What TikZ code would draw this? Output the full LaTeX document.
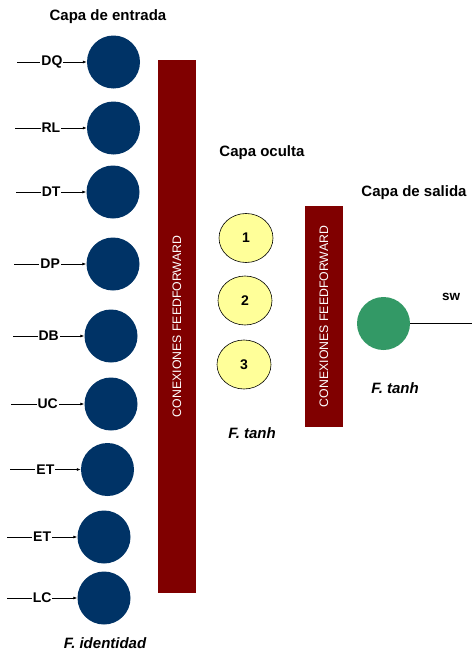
\documentclass[tikz,border=0pt]{standalone}
\usepackage{fontspec}
\setmainfont{Liberation Sans}
\usetikzlibrary{shapes.geometric,arrows.meta}
\definecolor{inblue}{HTML}{003366}
\definecolor{barred}{HTML}{800000}
\definecolor{hidyel}{HTML}{FFFF99}
\definecolor{outgreen}{HTML}{339966}
\begin{document}
\begin{tikzpicture}[x=1pt,y=-1pt,
  innode/.style={circle,fill=inblue,minimum size=53pt,inner sep=0pt},
  hidnode/.style={ellipse,draw=black,line width=0.6pt,fill=hidyel,minimum width=54pt,minimum height=49pt,inner sep=0pt,font=\fontsize{14}{16}\selectfont\bfseries},
  outnode/.style={circle,fill=outgreen,minimum size=53pt,inner sep=0pt},
  bar/.style={rectangle,fill=barred,text=white,rotate=90,inner sep=0pt,font=\fontsize{12.3}{14}\selectfont},
  title/.style={font=\fontsize{15}{18}\selectfont\bfseries},
  ftitle/.style={font=\fontsize{15}{18}\selectfont\bfseries\itshape},
  lab/.style={fill=white,inner xsep=1pt,inner ysep=1pt,font=\fontsize{14}{16}\selectfont\bfseries},
  inarrow/.style={line width=0.7pt,-{Latex[length=4pt,width=3pt]}}
]
\useasboundingbox (0,0) rectangle (472,653);

% titles
\node[title] (t1) at (108,17) {Capa de entrada};
\node[title] (t2) at (262,153) {Capa oculta};
\node[title] (t3) at (414,193) {Capa de salida};
\node[ftitle] (f1) at (105,643) {F. identidad};
\node[ftitle] (f2) at (252,433) {F. tanh};
\node[ftitle] (f3) at (395,388) {F. tanh};

% input nodes
\node[innode] (i1) at (113.5,62) {};
\node[innode] (i2) at (113.5,128) {};
\node[innode] (i3) at (113,192) {};
\node[innode] (i4) at (113,264) {};
\node[innode] (i5) at (111,336) {};
\node[innode] (i6) at (111,404) {};
\node[innode] (i7) at (107.5,469.5) {};
\node[innode] (i8) at (104,537) {};
\node[innode] (i9) at (104,598) {};

% input starts
\coordinate (s1) at (17,62);
\coordinate (s2) at (15,128);
\coordinate (s3) at (16,192);
\coordinate (s4) at (14,264);
\coordinate (s5) at (13,336);
\coordinate (s6) at (11,404);
\coordinate (s7) at (10,469.5);
\coordinate (s8) at (7,537);
\coordinate (s9) at (7,598);

\draw[inarrow] (s1) -- node[lab]{DQ} (i1);
\draw[inarrow] (s2) -- node[lab]{RL} (i2);
\draw[inarrow] (s3) -- node[lab]{DT} (i3);
\draw[inarrow] (s4) -- node[lab]{DP} (i4);
\draw[inarrow] (s5) -- node[lab]{DB} (i5);
\draw[inarrow] (s6) -- node[lab]{UC} (i6);
\draw[inarrow] (s7) -- node[lab]{ET} (i7);
\draw[inarrow] (s8) -- node[lab]{ET} (i8);
\draw[inarrow] (s9) -- node[lab]{LC} (i9);

% bars
\node[bar,minimum width=533pt,minimum height=38pt] (b1) at (177,326.5) {CONEXIONES FEEDFORWARD};
\node[bar,minimum width=221pt,minimum height=38pt] (b2) at (324,316.5) {CONEXIONES FEEDFORWARD};

% hidden nodes
\node[hidnode] (h1) at (246,238) {1};
\node[hidnode] (h2) at (245,300.5) {2};
\node[hidnode] (h3) at (244,364.5) {3};

% output
\node[outnode] (o1) at (383.5,323.5) {};
\coordinate (oe) at (472,323.5);
\draw[line width=0.7pt] (o1) -- (oe);
\node[font=\fontsize{13.5}{15}\selectfont\bfseries] (sw) at (451,297) {sw};
\end{tikzpicture}
\end{document}
